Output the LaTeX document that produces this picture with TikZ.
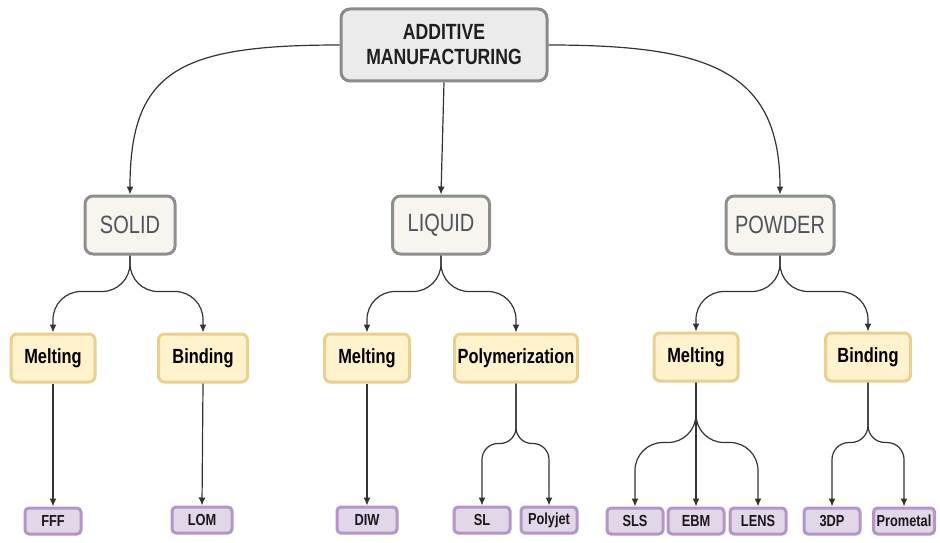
\documentclass[tikz,border=0pt]{standalone}
\usepackage{fontspec}
\setmainfont{Liberation Sans}
\newfontfamily\nf[FakeStretch=0.80]{Liberation Sans}
\usetikzlibrary{arrows.meta,calc}
\definecolor{topfill}{HTML}{EBEBEB}
\definecolor{topdraw}{HTML}{8A8A8A}
\definecolor{catfill}{HTML}{F8F5EE}
\definecolor{catdraw}{HTML}{8E8E8E}
\definecolor{cattext}{HTML}{4E535C}
\definecolor{yfill}{HTML}{FFF2CC}
\definecolor{ydraw}{HTML}{E8D090}
\definecolor{pfill}{HTML}{E2D6E9}
\definecolor{pdraw}{HTML}{B495C6}
\definecolor{lineclr}{HTML}{333333}
\tikzset{
  topbox/.style={draw=topdraw, fill=topfill, line width=3pt, rounded corners=9pt,
    minimum width=206pt, minimum height=72pt, inner sep=0pt, align=center,
    text=black!88, font=\nf\bfseries\fontsize{22}{25}\selectfont},
  catbox/.style={draw=catdraw, fill=catfill, line width=3pt, rounded corners=8pt,
    minimum height=58pt, inner sep=0pt, text=cattext,
    font=\nf\fontsize{25}{28}\selectfont},
  methbox/.style={draw=ydraw, fill=yfill, line width=3pt, rounded corners=6pt,
    minimum height=48pt, inner sep=0pt, text=black,
    font=\nf\bfseries\fontsize{20.5}{24}\selectfont},
  procbox/.style={draw=pdraw, fill=pfill, line width=3pt, rounded corners=4pt,
    minimum width=56pt, minimum height=26pt, inner sep=0pt, text=black!90,
    font=\nf\bfseries\fontsize{16}{18}\selectfont},
  conn/.style={draw=lineclr, line width=1.2pt, -{Latex[length=8pt,width=7pt]}},
  branch/.style={conn, rounded corners=#1},
}
\begin{document}
\begin{tikzpicture}[x=1pt,y=-1pt]
\useasboundingbox (0,0) rectangle (940,543);
% level 0
\node[topbox] (am) at (444,45) {ADDITIVE\\MANUFACTURING};
% level 1
\node[catbox, minimum width=90pt] (solid) at (130,225) {SOLID};
\node[catbox, minimum width=97pt] (liquid) at (441,225) {LIQUID};
\node[catbox, minimum width=108pt] (powder) at (780,225) {POWDER};
% level 2
\node[methbox, minimum width=84pt] (sm) at (53,358) {Melting};
\node[methbox, minimum width=89pt] (sb) at (203,358) {Binding};
\node[methbox, minimum width=85pt] (lm) at (367,358) {Melting};
\node[methbox, minimum width=123pt] (lp) at (516,358) {Polymerization};
\node[methbox, minimum width=84pt] (pm) at (696,357) {Melting};
\node[methbox, minimum width=85pt] (pb) at (868,357) {Binding};
% level 3
\node[procbox] (fff) at (53,521) {FFF};
\node[procbox, minimum width=60pt] (lom) at (202,520) {LOM};
\node[procbox, minimum width=60pt] (diw) at (367,520) {DIW};
\node[procbox] (sl) at (482,520) {SL};
\node[procbox] (pj) at (549,520) {Polyjet};
\node[procbox] (sls) at (635,521) {SLS};
\node[procbox] (ebm) at (696,521) {EBM};
\node[procbox] (lens) at (758,521) {LENS};
\node[procbox] (tdp) at (832,521) {3DP};
\node[procbox, minimum width=61pt] (prom) at (904,521) {Prometal};
% connectors level 0 -> 1
\draw[conn] (am.west) .. controls (180,45) and (solid.north|-0,70) .. (solid.north);
\draw[conn] (am.south) -- (liquid.north);
\draw[conn] (am.east) .. controls (708,45) and (powder.north|-0,70) .. (powder.north);
% level 1 -> 2
\draw[branch=28pt] (solid.south) -- ++(0,36) -| (sm.north);
\draw[branch=28pt] (solid.south) -- ++(0,36) -| (sb.north);
\draw[branch=28pt] (liquid.south) -- ++(0,36) -| (lm.north);
\draw[branch=28pt] (liquid.south) -- ++(0,36) -| (lp.north);
\draw[branch=28pt] (powder.south) -- ++(0,36) -| (pm.north);
\draw[branch=28pt] (powder.south) -- ++(0,36) -| (pb.north);
% level 2 -> 3
\draw[conn] (sm.south) -- (fff.north);
\draw[conn] (sb.south) -- (lom.north);
\draw[conn] (lm.south) -- (diw.north);
\draw[branch=16pt] (lp.south) -- ++(0,60) -| (sl.north);
\draw[branch=16pt] (lp.south) -- ++(0,60) -| (pj.north);
\draw[branch=28pt] (pm.south) -- ++(0,60) -| (sls.north);
\draw[conn] (pm.south) -- (ebm.north);
\draw[branch=28pt] (pm.south) -- ++(0,60) -| (lens.north);
\draw[branch=17pt] (pb.south) -- ++(0,60) -| (tdp.north);
\draw[branch=17pt] (pb.south) -- ++(0,60) -| (prom.north);
\end{tikzpicture}
\end{document}
